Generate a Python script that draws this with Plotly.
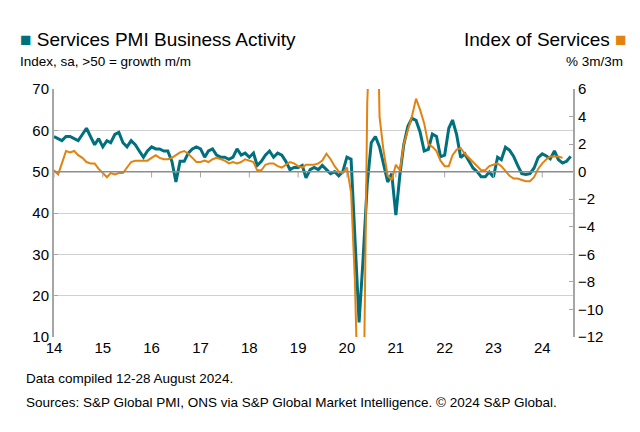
import pandas as pd
import plotly.graph_objects as go

# Services PMI Business Activity, monthly Jan 2014 - Aug 2024
pmi = [58.5, 58.0, 57.5, 58.5, 58.5, 58.0, 57.5, 59.0, 60.5, 58.5, 56.5, 58.0,
       56.0, 57.5, 57.0, 59.0, 59.5, 57.0, 56.0, 57.5, 56.5, 55.0, 53.5, 55.0,
       56.0, 55.5, 55.5, 55.0, 55.0, 52.5, 47.5, 52.5, 52.5, 54.5, 55.5, 56.0,
       55.5, 53.5, 55.0, 55.5, 54.0, 53.5, 53.5, 53.0, 53.5, 55.5, 54.0, 54.5,
       53.5, 54.5, 51.5, 52.5, 54.0, 55.0, 53.5, 54.5, 54.0, 52.5, 50.5, 51.0,
       51.0, 51.5, 48.5, 50.5, 51.0, 50.5, 51.5, 50.5, 49.5, 50.0, 49.0, 50.0,
       53.5, 53.0, 34.5, 13.5, 29.0, 47.0, 57.0, 58.5, 56.0, 52.0, 47.5, 49.5,
       39.5, 49.5, 56.5, 61.0, 62.9, 62.4, 59.6, 55.0, 55.4, 59.1, 58.5, 53.6,
       54.0, 60.5, 62.5, 58.9, 53.4, 54.3, 52.6, 50.9, 50.0, 48.8, 48.8, 49.9,
       48.7, 53.5, 52.9, 55.9, 55.2, 53.7, 51.5, 49.5, 49.3, 49.5, 50.9, 53.4,
       54.3, 53.8, 53.1, 55.0, 52.9, 52.1, 52.5, 53.7]

# Index of Services, % 3m/3m, Jan 2014 - Jun 2024
ios = [0.1, -0.2, 0.6, 1.5, 1.4, 1.5, 1.2, 1.0, 0.7, 0.6, 0.6, 0.2,
       -0.1, -0.4, -0.1, -0.2, -0.1, -0.1, 0.3, 0.7, 0.8, 0.8, 0.8, 0.8,
       1.0, 1.2, 1.0, 0.9, 0.9, 1.0, 1.2, 1.4, 1.5, 1.3, 1.0, 0.7,
       0.7, 0.8, 0.7, 0.9, 1.0, 0.9, 0.8, 0.6, 0.7, 0.6, 0.7, 0.9,
       0.8, 0.7, 0.1, 0.1, 0.5, 0.6, 0.6, 0.4, 0.3, 0.5, 0.7, 0.6,
       0.4, 0.3, 0.5, 0.5, 0.5, 0.6, 0.8, 1.3, 0.9, 0.4, 0.0, -0.1,
       0.3, -1.5, -8.0, -20.0, -20.0, 5.0, 20.0, 20.0, 4.0, 1.5, -0.3, -0.6,
       0.5, 0.1, 2.0, 3.0, 4.0, 5.3, 4.5, 3.5, 2.0, 1.8, 1.5, 0.8,
       0.4, 0.4, 1.2, 1.6, 1.7, 1.3, 1.0, 0.7, 0.4, 0.1, 0.1, 0.4,
       0.5, 0.6, 0.4, 0.0, -0.3, -0.5, -0.5, -0.6, -0.7, -0.7, -0.4, 0.2,
       0.6, 0.9, 1.1, 1.1, 1.1, 1.0]

years = list(range(2014, 2025))
year_labels = [str(y)[2:] for y in years]

pmi_dates = pd.date_range("2014-01-01", periods=len(pmi), freq="MS")
ios_dates = pd.date_range("2014-01-01", periods=len(ios), freq="MS")

teal = "#00707f"
orange = "#e3820f"
grey = "#a6a6a6"
font = "Liberation Sans, Arial, sans-serif"

fig = go.Figure()
fig.add_trace(go.Scatter(x=ios_dates, y=ios, yaxis="y2", mode="lines",
                         line=dict(color=orange, width=2), name="Index of Services"))
fig.add_trace(go.Scatter(x=pmi_dates, y=pmi, mode="lines",
                         line=dict(color=teal, width=3), name="Services PMI Business Activity"))

# year tick marks hanging from the 50 line
for y in years:
    fig.add_shape(type="line", x0=f"{y}-01-01", x1=f"{y}-01-01", y0=50, y1=48.6,
                  xref="x", yref="y", line=dict(color=grey, width=1))

fig.update_layout(
    width=640, height=432,
    margin=dict(l=46, r=75, t=81, b=103),
    plot_bgcolor="white", paper_bgcolor="white",
    showlegend=False,
    font=dict(family=font, size=15, color="black"),
    xaxis=dict(range=["2014-01-01", "2024-08-18"],
               tickvals=[f"{y}-01-01" for y in years], ticktext=year_labels,
               showgrid=False, ticks="", tickfont=dict(size=15)),
    yaxis=dict(range=[10, 70], dtick=10, showgrid=True, gridcolor="#d0d0d0",
               gridwidth=1, zeroline=False, showline=True, linecolor=grey,
               linewidth=2, ticks="inside", ticklen=4, tickcolor=grey,
               tickfont=dict(size=15)),
    yaxis2=dict(range=[-12, 6], dtick=2, overlaying="y", side="right",
                showgrid=False, zeroline=False, showline=True, linecolor=grey,
                linewidth=2, ticks="inside", ticklen=4, tickcolor=grey,
                tickfont=dict(size=15)),
)
fig.add_hline(y=50, line=dict(color="#8c8c8c", width=1.5))

fig.add_annotation(x=0, y=1, xref="paper", yref="paper", xshift=-36, yshift=62,
                   xanchor="left", yanchor="top", showarrow=False,
                   text=f"<span style='color:{teal}'>■</span> Services PMI Business Activity",
                   font=dict(size=19))
fig.add_annotation(x=0, y=1, xref="paper", yref="paper", xshift=-36, yshift=37,
                   xanchor="left", yanchor="top", showarrow=False,
                   text="Index, sa, >50 = growth m/m", font=dict(size=13.5))
fig.add_annotation(x=1, y=1, xref="paper", yref="paper", xshift=56, yshift=62,
                   xanchor="right", yanchor="top", showarrow=False,
                   text=f"Index of Services <span style='color:{orange}'>■</span>",
                   font=dict(size=19))
fig.add_annotation(x=1, y=1, xref="paper", yref="paper", xshift=52, yshift=37,
                   xanchor="right", yanchor="top", showarrow=False,
                   text="% 3m/3m", font=dict(size=13.5))
fig.add_annotation(x=0, y=0, xref="paper", yref="paper", xshift=-30, yshift=-32,
                   xanchor="left", yanchor="top", showarrow=False,
                   text="Data compiled 12-28 August 2024.", font=dict(size=13.5))
fig.add_annotation(x=0, y=0, xref="paper", yref="paper", xshift=-30, yshift=-56,
                   xanchor="left", yanchor="top", showarrow=False,
                   text="Sources: S&P Global PMI, ONS via S&P Global Market Intelligence. © 2024 S&P Global.",
                   font=dict(size=13.5))

fig.write_html("out.html")
